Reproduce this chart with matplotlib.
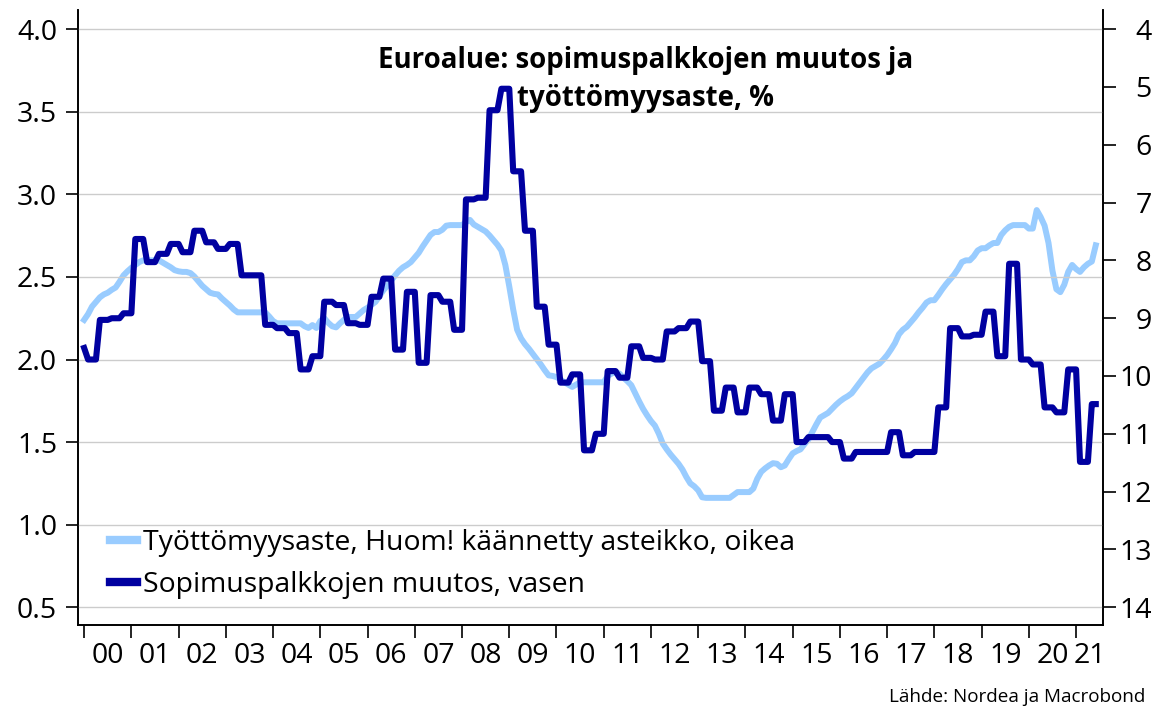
import numpy as np
import pandas as pd
import matplotlib
matplotlib.use("Agg")
import matplotlib.pyplot as plt
from matplotlib.lines import Line2D

# ---------------- data ----------------
# Negotiated wages (% y/y), quarterly, 1999Q4 .. 2021Q2 (left axis)
wage_q = [2.07,
          2.00, 2.24, 2.25, 2.28,   # 2000
          2.73, 2.59, 2.64, 2.70,   # 2001
          2.65, 2.78, 2.71, 2.67,   # 2002
          2.70, 2.51, 2.51, 2.21,   # 2003
          2.19, 2.16, 1.94, 2.02,   # 2004
          2.35, 2.33, 2.22, 2.21,   # 2005
          2.38, 2.49, 2.06, 2.41,   # 2006
          1.98, 2.39, 2.35, 2.18,   # 2007
          2.97, 2.98, 3.51, 3.64,   # 2008
          3.14, 2.78, 2.32, 2.09,   # 2009
          1.86, 1.91, 1.45, 1.55,   # 2010
          1.93, 1.89, 2.08, 2.01,   # 2011
          2.00, 2.17, 2.19, 2.23,   # 2012
          1.99, 1.69, 1.83, 1.68,   # 2013
          1.83, 1.79, 1.63, 1.79,   # 2014
          1.50, 1.53, 1.53, 1.50,   # 2015
          1.40, 1.44, 1.44, 1.44,   # 2016
          1.56, 1.42, 1.44, 1.44,   # 2017
          1.71, 2.19, 2.14, 2.15,   # 2018
          2.29, 2.02, 2.58, 2.00,   # 2019
          1.97, 1.71, 1.68, 1.94,   # 2020
          1.38, 1.73]               # 2021
wage_start = "1999-10"

# Unemployment rate (%), monthly, 1999-12 .. 2021-05 (right axis, inverted)
unemp = [9.03,  # 1999-12
         8.93, 8.80, 8.72, 8.64, 8.59, 8.56, 8.51, 8.47, 8.37, 8.26, 8.19, 8.13,  # 2000
         8.08, 8.03, 8.00, 8.00, 8.00, 8.00, 8.00, 8.04, 8.08, 8.12, 8.17, 8.19,  # 2001
         8.20, 8.20, 8.22, 8.28, 8.36, 8.44, 8.50, 8.56, 8.58, 8.59, 8.66, 8.72,  # 2002
         8.78, 8.85, 8.90, 8.90, 8.90, 8.90, 8.90, 8.90, 8.90, 8.90, 8.97, 9.05,  # 2003
         9.09, 9.09, 9.09, 9.09, 9.09, 9.09, 9.09, 9.14, 9.17, 9.12, 9.17, 9.05,  # 2004
         9.00, 9.08, 9.14, 9.16, 9.09, 9.03, 8.98, 8.98, 8.98, 8.92, 8.86, 8.82,  # 2005
         8.77, 8.72, 8.62, 8.52, 8.44, 8.35, 8.26, 8.18, 8.12, 8.08, 8.03, 7.95,  # 2006
         7.87, 7.76, 7.66, 7.56, 7.51, 7.51, 7.47, 7.40, 7.39, 7.39, 7.39, 7.39,  # 2007
         7.34, 7.30, 7.38, 7.42, 7.46, 7.50, 7.57, 7.65, 7.73, 7.83, 8.08, 8.45,  # 2008
         8.85, 9.20, 9.35, 9.45, 9.53, 9.62, 9.71, 9.80, 9.90, 9.99, 10.00, 10.02,  # 2009
         10.06, 10.11, 10.15, 10.19, 10.15, 10.11, 10.11, 10.11, 10.11, 10.11, 10.11, 10.11,  # 2010
         10.00, 9.96, 9.93, 9.96, 10.03, 10.09, 10.16, 10.30, 10.44, 10.57, 10.68, 10.78,  # 2011
         10.86, 11.00, 11.17, 11.27, 11.36, 11.44, 11.52, 11.62, 11.75, 11.86, 11.91, 11.98,  # 2012
         12.10, 12.11, 12.11, 12.11, 12.11, 12.11, 12.11, 12.11, 12.06, 12.01, 12.01, 12.01,  # 2013
         12.01, 11.95, 11.78, 11.66, 11.60, 11.55, 11.51, 11.52, 11.58, 11.55, 11.44, 11.34,  # 2014
         11.30, 11.27, 11.18, 11.10, 10.97, 10.84, 10.72, 10.68, 10.64, 10.57, 10.50, 10.44,  # 2015
         10.39, 10.35, 10.30, 10.21, 10.12, 10.03, 9.94, 9.87, 9.83, 9.79, 9.72, 9.64,  # 2016
         9.54, 9.43, 9.28, 9.20, 9.15, 9.07, 8.99, 8.90, 8.82, 8.73, 8.69, 8.69,  # 2017
         8.60, 8.50, 8.41, 8.33, 8.25, 8.15, 8.03, 8.00, 8.00, 7.93, 7.83, 7.79,  # 2018
         7.79, 7.74, 7.70, 7.70, 7.56, 7.48, 7.42, 7.39, 7.39, 7.39, 7.39, 7.45,  # 2019
         7.45, 7.13, 7.25, 7.40, 7.70, 8.18, 8.50, 8.55, 8.42, 8.20, 8.08, 8.15,  # 2020
         8.20, 8.12, 8.06, 8.02, 7.74]  # 2021
unemp_start = "1999-12"

year_labels = ["00", "01", "02", "03", "04", "05", "06", "07", "08", "09", "10",
               "11", "12", "13", "14", "15", "16", "17", "18", "19", "20", "21"]
left_ticks = [0.5, 1.0, 1.5, 2.0, 2.5, 3.0, 3.5, 4.0]
right_ticks = [4, 5, 6, 7, 8, 9, 10, 11, 12, 13, 14]

title_text = "Euroalue: sopimuspalkkojen muutos ja\ntyöttömyysaste, %"
label_unemp = "Työttömyysaste, Huom! käännetty asteikko, oikea"
label_wage = "Sopimuspalkkojen muutos, vasen"
source_text = "Lähde: Nordea ja Macrobond"

# ---------------- build monthly series ----------------
def frac_year(periods):
    return periods.year + periods.month / 12.0

wage_months = pd.period_range(wage_start, periods=3 * len(wage_q), freq="M")
wage_m = np.repeat(np.array(wage_q), 3)
keep = (wage_months >= pd.Period(unemp_start, "M")) & \
       (wage_months <= pd.Period(unemp_start, "M") + (len(unemp) - 1))
wage_x = frac_year(wage_months[keep])
wage_y = wage_m[keep]

unemp_months = pd.period_range(unemp_start, periods=len(unemp), freq="M")
unemp_x = frac_year(unemp_months)

# ---------------- plot ----------------
FONT = "Open Sans"
plt.rcParams["font.family"] = [FONT, "DejaVu Sans"]

DARK = "#0000a0"
LIGHT = "#99ccff"
TICK_FS = 20.5

fig = plt.figure(figsize=(11.53, 7.07), dpi=100)
ax = fig.add_axes([78 / 1153, 1 - 625 / 707, 1025 / 1153, 615 / 707])
ax2 = ax.twinx()

ax.set_zorder(ax2.get_zorder() + 1)
ax.patch.set_visible(False)

ax2.plot(unemp_x, unemp, color=LIGHT, lw=4.3, solid_joinstyle="round", zorder=3)
ax.plot(wage_x, wage_y, color=DARK, lw=4.4, solid_joinstyle="round", zorder=3)

xmin, xmax = 1999.87, 2021.57
ax.set_xlim(xmin, xmax)
ax.set_ylim(0.392, 4.117)
ax2.set_ylim(14.31, 3.668)

ax.set_yticks(left_ticks)
ax.set_yticklabels([f"{v:.1f}" for v in left_ticks])
ax2.set_yticks(right_ticks)
ax2.set_yticklabels([str(v) for v in right_ticks], ha="right")
ax.grid(axis="y", color="#cccccc", lw=1.0)
ax.set_axisbelow(True)

years = list(range(2000, 2022))
ax.set_xticks(years)
ax.set_xticklabels([])
mids = [y + 0.5 for y in years[:-1]] + [(years[-1] + xmax) / 2]
ax.set_xticks(mids, minor=True)
ax.set_xticklabels(year_labels, minor=True)

for a in (ax, ax2):
    a.spines["top"].set_visible(False)
    for s in a.spines.values():
        s.set_color("black")
        s.set_linewidth(1.2)

ax.tick_params(axis="x", which="major", direction="out", length=9, width=1.2, color="black")
ax.tick_params(axis="x", which="minor", length=0, pad=12, labelsize=TICK_FS)
ax.tick_params(axis="y", direction="out", length=9, width=1.2, pad=6, labelsize=TICK_FS)
ax2.tick_params(axis="y", direction="out", length=9, width=1.2, pad=26, labelsize=TICK_FS)

# title
ax.text(0.554, 0.8875, title_text, transform=ax.transAxes, ha="center", va="center",
        fontsize=19.9, fontweight="bold", linespacing=1.4, zorder=5)

# legend
handles = [Line2D([], [], color=LIGHT, lw=6), Line2D([], [], color=DARK, lw=6)]
leg = ax.legend(handles, [label_unemp, label_wage], loc="upper left",
                bbox_to_anchor=((110 - 78) / 1025, (625 - 529) / 615),
                frameon=False, borderpad=0, borderaxespad=0, handlelength=0.95,
                handletextpad=0.22, labelspacing=0.5, fontsize=20.4)

fig.text(1145 / 1153, 1 - 697 / 707, source_text, ha="right", va="center", fontsize=13.6)

fig.savefig("out.png", dpi=100)
